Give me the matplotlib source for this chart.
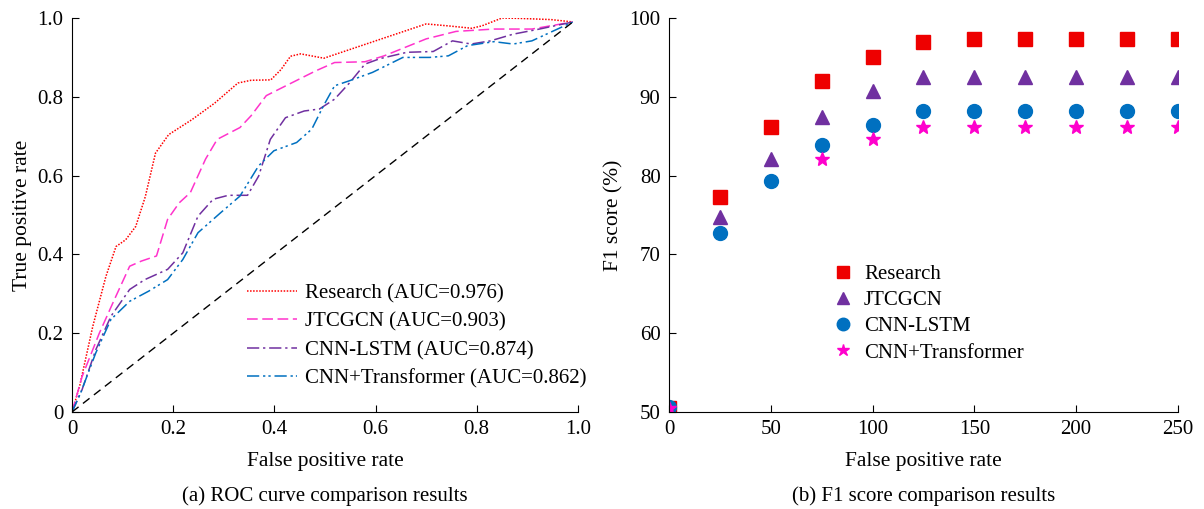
import numpy as np
import matplotlib
matplotlib.use("Agg")
import matplotlib.pyplot as plt

plt.rcParams["font.family"] = ["Liberation Serif", "DejaVu Serif"]
plt.rcParams["mathtext.fontset"] = "stix"

# ROC curves (false positive rate, true positive rate)
research_fpr = [0, 0.015, 0.041, 0.067, 0.087, 0.106, 0.126, 0.145, 0.165, 0.191, 0.237,
                0.282, 0.328, 0.354, 0.393, 0.413, 0.432, 0.452, 0.498, 0.6, 0.7, 0.744,
                0.79, 0.81, 0.85, 0.887, 0.947, 0.99]
research_tpr = [0, 0.065, 0.217, 0.344, 0.42, 0.437, 0.471, 0.547, 0.657, 0.704, 0.742,
                0.784, 0.835, 0.842, 0.843, 0.869, 0.903, 0.909, 0.898, 0.942, 0.985, 0.98,
                0.974, 0.98, 1.0, 0.999, 0.996, 0.99]

jtcgcn_fpr = [0, 0.02, 0.054, 0.084, 0.114, 0.137, 0.167, 0.189, 0.212, 0.234, 0.264,
              0.287, 0.332, 0.354, 0.384, 0.429, 0.482, 0.519, 0.579, 0.617, 0.7, 0.759,
              0.834, 0.909, 0.99]
jtcgcn_tpr = [0, 0.09, 0.2, 0.286, 0.37, 0.383, 0.396, 0.489, 0.531, 0.557, 0.642,
              0.692, 0.722, 0.752, 0.803, 0.832, 0.866, 0.887, 0.889, 0.904, 0.947, 0.966,
              0.972, 0.972, 0.99]

lstm_fpr = [0, 0.02, 0.047, 0.077, 0.114, 0.144, 0.189, 0.219, 0.249, 0.279, 0.309,
            0.347, 0.369, 0.392, 0.422, 0.459, 0.489, 0.519, 0.549, 0.579, 0.609, 0.662,
            0.714, 0.752, 0.789, 0.827, 0.872, 0.924, 0.99]
lstm_tpr = [0, 0.057, 0.158, 0.243, 0.311, 0.336, 0.362, 0.404, 0.497, 0.54, 0.55,
            0.55, 0.599, 0.692, 0.747, 0.764, 0.769, 0.794, 0.836, 0.883, 0.897, 0.913,
            0.915, 0.942, 0.934, 0.942, 0.959, 0.972, 0.99]

trans_fpr = [0, 0.017, 0.047, 0.077, 0.114, 0.152, 0.189, 0.219, 0.249, 0.294, 0.332,
             0.369, 0.399, 0.444, 0.474, 0.497, 0.519, 0.549, 0.594, 0.654, 0.707, 0.744,
             0.782, 0.834, 0.872, 0.909, 0.99]
trans_tpr = [0, 0.048, 0.15, 0.235, 0.281, 0.307, 0.336, 0.387, 0.455, 0.506, 0.548,
             0.625, 0.663, 0.684, 0.718, 0.777, 0.828, 0.841, 0.862, 0.9, 0.9, 0.904,
             0.93, 0.94, 0.934, 0.942, 0.99]

roc_labels = ["Research (AUC=0.976)", "JTCGCN (AUC=0.903)",
              "CNN-LSTM (AUC=0.874)", "CNN+Transformer (AUC=0.862)"]

# F1 scores
f1_x = [0, 25, 50, 75, 100, 125, 150, 175, 200, 225, 250]
f1_research = [50.5, 77.3, 86.2, 92.0, 95.0, 96.9, 97.3, 97.3, 97.3, 97.3, 97.3]
f1_jtcgcn = [50.5, 74.8, 82.1, 87.5, 90.7, 92.5, 92.5, 92.5, 92.5, 92.5, 92.5]
f1_lstm = [50.6, 72.7, 79.3, 83.9, 86.4, 88.2, 88.2, 88.2, 88.2, 88.2, 88.2]
f1_trans = [50.5, np.nan, np.nan, 82.1, 84.6, 86.2, 86.2, 86.2, 86.2, 86.2, 86.2]
f1_labels = ["Research", "JTCGCN", "CNN-LSTM", "CNN+Transformer"]

fig = plt.figure(figsize=(12.04, 5.09), dpi=100)
ax1 = fig.add_axes([0.0598, 0.1906, 0.4202, 0.774])
ax2 = fig.add_axes([0.5556, 0.1906, 0.4228, 0.774])

fs = 15

# --- (a) ROC ---
ax1.plot(research_fpr, research_tpr, color="#ff0000", ls=(0, (1, 1)), lw=1.1, label=roc_labels[0])
ax1.plot(jtcgcn_fpr, jtcgcn_tpr, color="#ff33cc", ls=(0, (7, 3)), lw=1.1, label=roc_labels[1])
ax1.plot(lstm_fpr, lstm_tpr, color="#7030a0", ls=(0, (8, 2.5, 1.5, 2.5)), lw=1.1, label=roc_labels[2])
ax1.plot(trans_fpr, trans_tpr, color="#0070c0", ls=(0, (8, 2.5, 1.5, 2, 1.5, 2.5)), lw=1.1,
         label=roc_labels[3])
ax1.plot([0, 0.99], [0, 0.99], color="black", ls=(0, (6, 4)), lw=1.0)

ax1.set_xlim(0, 1.0)
ax1.set_ylim(0, 1.0)
ax1.set_xticks([0, 0.2, 0.4, 0.6, 0.8, 1.0])
ax1.set_xticklabels(["0", "0.2", "0.4", "0.6", "0.8", "1.0"])
ax1.set_yticks([0, 0.2, 0.4, 0.6, 0.8, 1.0])
ax1.set_yticklabels(["0", "0.2", "0.4", "0.6", "0.8", "1.0"])
ax1.set_xlabel("False positive rate", fontsize=fs + 0.5, labelpad=9)
ax1.set_ylabel("True positive rate", fontsize=fs + 0.5, labelpad=4)
ax1.legend(loc="lower left", bbox_to_anchor=(0.345, 0.06), frameon=False, fontsize=fs,
           handlelength=2.4, labelspacing=0.42, handletextpad=0.4, borderaxespad=0,
           borderpad=0)
ax1.text(0.5, -0.213, "(a) ROC curve comparison results", transform=ax1.transAxes,
         ha="center", va="center", fontsize=fs)

# --- (b) F1 ---
ax2.plot(f1_x, f1_research, ls="none", marker="s", ms=10, color="#ee0000", label=f1_labels[0])
ax2.plot(f1_x, f1_jtcgcn, ls="none", marker="^", ms=10, color="#7030a0", label=f1_labels[1])
ax2.plot(f1_x, f1_lstm, ls="none", marker="o", ms=10, color="#0070c0", label=f1_labels[2])
ax2.plot(f1_x, f1_trans, ls="none", marker="*", ms=10, color="#ff00cc", label=f1_labels[3])

ax2.set_xlim(0, 250)
ax2.set_ylim(50, 100)
ax2.set_xticks(range(0, 251, 50))
ax2.set_yticks(range(50, 101, 10))
ax2.set_xlabel("False positive rate", fontsize=fs + 0.5, labelpad=9)
ax2.set_ylabel("F1 score (%)", fontsize=fs + 0.5, labelpad=4)
ax2.legend(loc="lower left", bbox_to_anchor=(0.322, 0.125), frameon=False, fontsize=fs,
           handlelength=1.0, labelspacing=0.32, handletextpad=0.5, markerscale=0.9,
           borderaxespad=0, borderpad=0)
ax2.text(0.5, -0.213, "(b) F1 score comparison results", transform=ax2.transAxes,
         ha="center", va="center", fontsize=fs)

for ax in (ax1, ax2):
    ax.spines["top"].set_visible(False)
    ax.spines["right"].set_visible(False)
    ax.tick_params(direction="in", length=5, labelsize=fs, pad=6)

fig.savefig("out.png", dpi=100)
